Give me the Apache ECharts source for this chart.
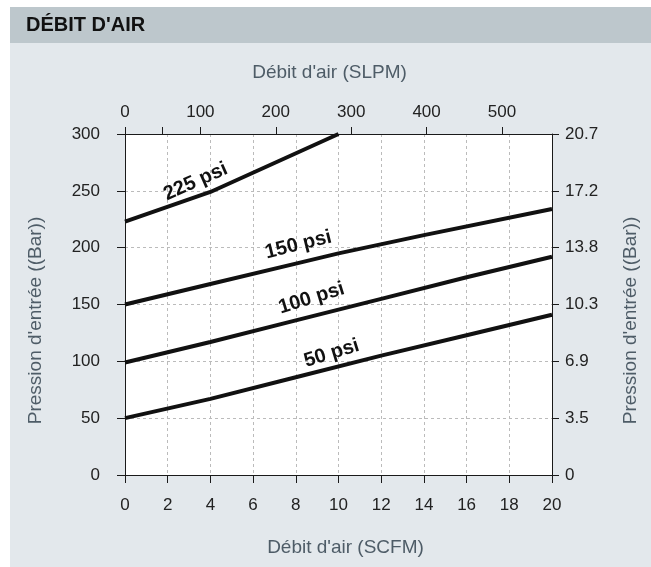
<!DOCTYPE html>
<html>
<head>
<meta charset="utf-8">
<script src="https://cdn.jsdelivr.net/npm/echarts@6/dist/echarts.min.js"></script>
<style>
html, body { margin: 0; padding: 0; background: #fff; }
#panel { position: absolute; left: 10px; top: 7px; width: 641px; height: 560px; background: #e3e8ec; }
#hdr { position: absolute; left: 10px; top: 7px; width: 641px; height: 36px; background: #bdc7cc; }
#chart { position: absolute; left: 0; top: 0; width: 651px; height: 567px; }
</style>
</head>
<body>
<div id="panel"></div>
<div id="hdr"></div>
<div id="chart"></div>
<script>
// flow (SCFM) / inlet pressure (psi)
const x225 = [0, 4, 10];
const y225 = [223, 249, 300];
const x150 = [0, 4, 8, 10, 14, 20];
const y150 = [150, 168, 186, 195, 211, 234];
const x100 = [0, 4, 8, 12, 16, 20];
const y100 = [99, 117, 136, 155, 174, 192];
const x50 = [0, 4, 8, 12, 16, 20];
const y50 = [50, 67, 86, 105, 123, 141];

const lineNames = ['225 psi', '150 psi', '100 psi', '50 psi'];

// tick labels
const slpmLabels = [0, 100, 200, 300, 400, 500];
const slpmTicks = [0, 50, 100, 200, 300, 400, 500];
const barLabels = ['0', '3.5', '6.9', '10.3', '13.8', '17.2', '20.7'];

const SLPM_PER_SCFM = 28.317;

// where the curve names sit (data units) and their slant
const labelAt = [[3.31, 258], [8.12, 202.4], [8.74, 155.5], [9.68, 107]];
const labelAngle = [24, 14, 17, 17];

const zip = (xs, ys) => xs.map((x, i) => [x, ys[i]]);
const allX = [x225, x150, x100, x50];
const allY = [y225, y150, y100, y50];

const txt = '#222';
const axisCol = '#1a1a1a';
const nameColor = '#4e5c67';
const font = 'Liberation Sans, Arial, Helvetica, sans-serif';

var myChart = echarts.init(document.getElementById('chart'));

const series = lineNames.map((n, i) => ({
    name: n,
    type: 'line',
    data: zip(allX[i], allY[i]),
    symbol: 'none',
    lineStyle: { color: '#111', width: 4 },
    silent: true,
    markPoint: {
        silent: true,
        symbol: 'circle',
        symbolSize: 1,
        itemStyle: { color: 'rgba(0,0,0,0)' },
        label: {
            show: true,
            position: 'inside',
            formatter: n,
            rotate: labelAngle[i],
            fontFamily: font,
            fontWeight: 'bold',
            fontSize: 20,
            color: '#111'
        },
        data: [{ coord: labelAt[i] }]
    }
}));

const axisLine = { show: true, onZero: false, lineStyle: { color: axisCol, width: 1 } };
const gridLine = { show: true, lineStyle: { color: '#bbb', type: [3, 3], width: 1 } };

const option = {
    animation: false,
    textStyle: { fontFamily: font },
    title: {
        text: "DÉBIT D'AIR",
        left: 26,
        top: 15,
        padding: 0,
        textStyle: { fontSize: 20, fontWeight: 'bold', color: '#111', fontFamily: font }
    },
    grid: {
        left: 125, right: 99, top: 134, bottom: 92,
        show: true, backgroundColor: '#fff', borderWidth: 0
    },
    xAxis: [
        {
            type: 'value',
            position: 'bottom',
            min: 0, max: 20, interval: 2,
            name: "Débit d'air (SCFM)",
            nameLocation: 'middle',
            nameGap: 63,
            nameTextStyle: { fontSize: 19, color: nameColor, padding: [0, 0, 0, 14] },
            axisLine: axisLine,
            axisTick: { show: true, length: 8, lineStyle: { color: axisCol, width: 1 } },
            axisLabel: { margin: 22, fontSize: 17, color: txt },
            splitLine: gridLine
        },
        {
            type: 'value',
            position: 'top',
            min: 0, max: 20 * SLPM_PER_SCFM, interval: 100,
            name: "Débit d'air (SLPM)",
            nameLocation: 'middle',
            nameGap: 52,
            nameTextStyle: { fontSize: 19, color: nameColor, padding: [0, 18, 0, 0] },
            axisLine: axisLine,
            axisTick: { show: true, length: 7, lineStyle: { color: axisCol, width: 1 }, customValues: slpmTicks },
            axisLabel: { margin: 13, fontSize: 17, color: txt, customValues: slpmLabels },
            splitLine: { show: false }
        }
    ],
    yAxis: [
        {
            type: 'value',
            position: 'left',
            min: 0, max: 300, interval: 50,
            name: "Pression d'entrée ((Bar))",
            nameLocation: 'middle',
            nameRotate: 90,
            nameGap: 80,
            nameTextStyle: { fontSize: 19, color: nameColor, padding: [0, 32, 0, 0] },
            axisLine: axisLine,
            axisTick: { show: true, length: 8, lineStyle: { color: axisCol, width: 1 } },
            axisLabel: { margin: 25, fontSize: 17, color: txt },
            splitLine: gridLine
        },
        {
            type: 'value',
            position: 'right',
            min: 0, max: 300, interval: 50,
            name: "Pression d'entrée ((Bar))",
            nameLocation: 'middle',
            nameRotate: 90,
            nameGap: 69,
            nameTextStyle: { fontSize: 19, color: nameColor, padding: [0, 32, 0, 0] },
            axisLine: axisLine,
            axisTick: { show: true, length: 7, lineStyle: { color: axisCol, width: 1 } },
            axisLabel: {
                margin: 13, fontSize: 17, color: txt,
                formatter: (v) => barLabels[Math.round(v / 50)]
            },
            splitLine: { show: false }
        }
    ],
    series: series
};

myChart.setOption(option);
</script>
</body>
</html>
